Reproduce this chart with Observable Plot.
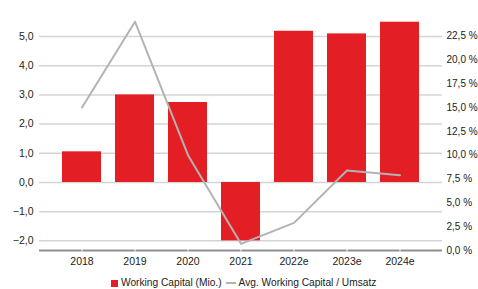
<!DOCTYPE html>
<html><head><meta charset="utf-8">
<script src="https://cdn.jsdelivr.net/npm/d3@7"></script>
<script src="https://cdn.jsdelivr.net/npm/@observablehq/plot@0.6"></script>
<style>
body{margin:0;background:#fff;font-family:"Liberation Sans",Arial,sans-serif;position:relative;width:478px;height:289px;overflow:hidden}
#legend{position:absolute;left:111px;top:276px;display:flex;align-items:center;font-size:10.2px;color:#222;line-height:14px;white-space:nowrap}
.sw{display:inline-block;width:7px;height:7px;background:#e31e24;margin-right:3px}
.ln{display:inline-block;width:10px;height:1.5px;background:#b3b3b3;margin-left:4px;margin-right:3px}
</style></head><body>
<div id="chart"></div>
<div id="legend"><span class="sw"></span><span>Working Capital (Mio.)</span><span class="ln"></span><span>Avg. Working Capital / Umsatz</span></div>
<script>
const years = ["2018","2019","2020","2021","2022e","2023e","2024e"];
const workingCapital = [1.05, 3.0, 2.74, -2.0, 5.18, 5.09, 5.49];
const wcRatio = [15.0, 24.0, 10.0, 0.7, 2.9, 8.4, 7.9];
const leftTicks = [-2, -1, 0, 1, 2, 3, 4, 5];
const rightTicks = [0, 2.5, 5, 7.5, 10, 12.5, 15, 17.5, 20, 22.5];

const L0 = -2.33, L1 = 5.72, R1 = 24.65;
const toLeft = p => L0 + p / R1 * (L1 - L0);
const toRight = v => (v - L0) / (L1 - L0) * R1;

const bars = years.map((y, i) => ({year: y, value: workingCapital[i]}));
const line = years.map((y, i) => ({year: y, value: toLeft(wcRatio[i])}));
const fmt = d3.format(".1f");
const de = s => s.replace(".", ",");

const chart = Plot.plot({
  width: 478, height: 272,
  marginTop: 15, marginBottom: 22, marginLeft: 39, marginRight: 36,
  style: {fontFamily: "'Liberation Sans', Arial, sans-serif", fontSize: "10.5px", color: "#222", overflow: "visible"},
  x: {domain: years, paddingInner: 0.26, paddingOuter: 0.37, label: null},
  y: {domain: [L0, L1], label: null},
  marks: [
    Plot.ruleY(leftTicks, {stroke: "#d4d4d4", strokeWidth: 1.5}),
    Plot.ruleY([L0], {stroke: "#8f8f8f", strokeWidth: 2}),
    Plot.ruleX(years, {x: d => d, y1: L0 - 0.05, y2: L0 + 0.05, stroke: "#fff", strokeWidth: 1}),
    Plot.barY(bars, {x: "year", y: "value", fill: "#e31e24"}),
    Plot.line(line, {x: "year", y: "value", stroke: "#b3b3b3", strokeWidth: 2}),
    Plot.axisY(leftTicks, {anchor: "left", tickSize: 0, tickPadding: 6, tickFormat: d => de(fmt(d)), label: null}),
    Plot.axisY(rightTicks.map(toLeft), {anchor: "right", tickSize: 0, tickPadding: 4, fontSize: 10, tickFormat: d => de(fmt(Math.round(toRight(d)*10)/10)) + " %", label: null}),
    Plot.axisX({tickSize: 0, tickPadding: 7, label: null})
  ]
});
document.getElementById("chart").appendChild(chart);
</script>
</body></html>
